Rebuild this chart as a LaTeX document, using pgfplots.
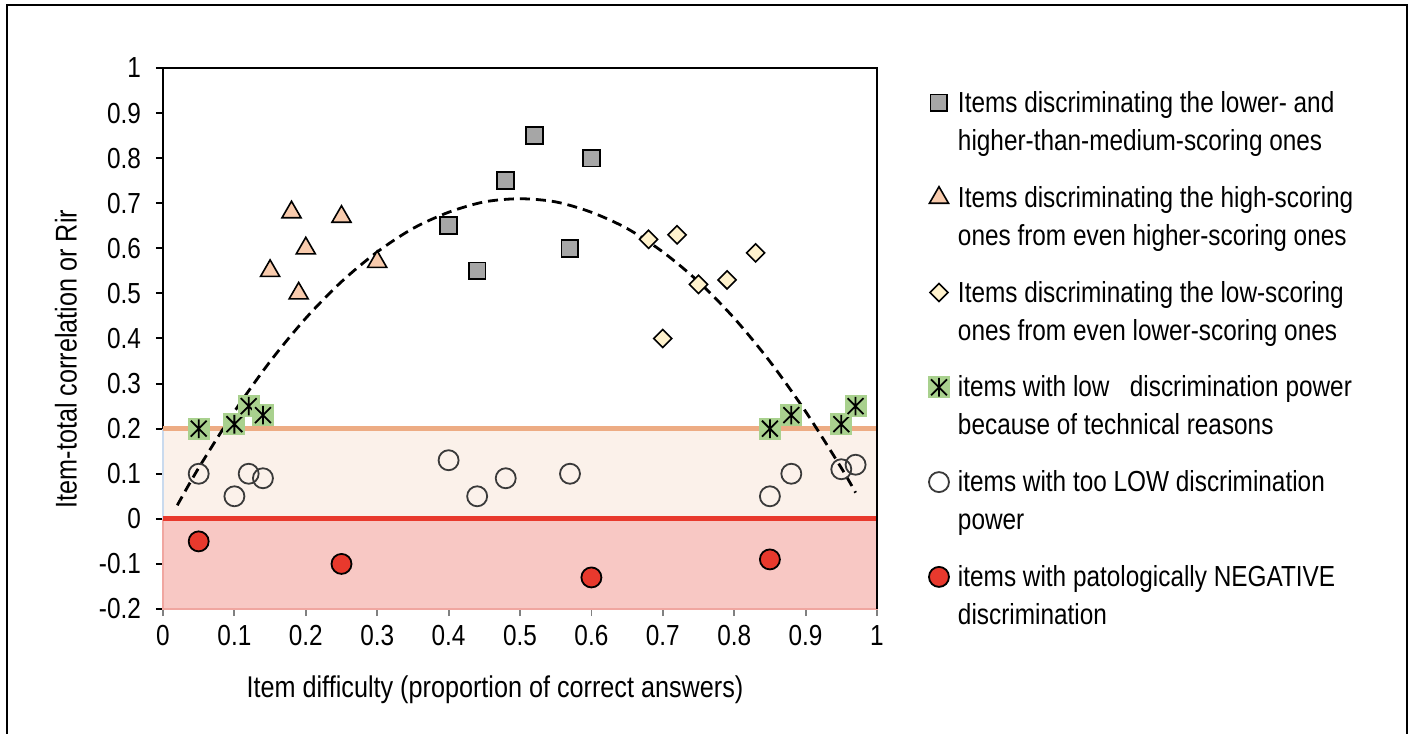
\documentclass[border=0pt]{standalone}
\usepackage{fontspec}
\setmainfont{Liberation Sans}[FakeStretch=0.84]
\usepackage{pgfplots}
\pgfplotsset{compat=1.18}
\definecolor{sqgray}{HTML}{A6A6A6}
\definecolor{trifill}{HTML}{F8CBAD}
\definecolor{diafill}{HTML}{FFF2CC}
\definecolor{techgreen}{HTML}{A9D18E}
\definecolor{redfill}{HTML}{E8392D}
\definecolor{orangeline}{HTML}{EDAC84}
\definecolor{lightband}{HTML}{FBF1EA}
\definecolor{pinkband}{HTML}{F8C8C4}
\definecolor{pinkedge}{HTML}{F0A6A0}
\definecolor{edgeblue}{HTML}{C9DAEE}
\definecolor{circedge}{HTML}{3A3A3A}
\newcommand\lfont{\fontsize{14.5pt}{19pt}\selectfont}
\newcommand\tfont{\fontsize{14.5pt}{17pt}\selectfont}
\newcommand\afont{\fontsize{15pt}{18pt}\selectfont}
\pgfdeclareplotmark{greenstar}{%
  \pgfpathrectangle{\pgfpoint{-\pgfplotmarksize}{-\pgfplotmarksize}}{\pgfpoint{2\pgfplotmarksize}{2\pgfplotmarksize}}%
  \pgfsetfillcolor{techgreen}\pgfusepath{fill}%
  \pgfsetstrokecolor{black}%
  \pgfpathmoveto{\pgfpoint{0pt}{-0.85\pgfplotmarksize}}\pgfpathlineto{\pgfpoint{0pt}{0.85\pgfplotmarksize}}%
  \pgfpathmoveto{\pgfpoint{-0.72\pgfplotmarksize}{-0.72\pgfplotmarksize}}\pgfpathlineto{\pgfpoint{0.72\pgfplotmarksize}{0.72\pgfplotmarksize}}%
  \pgfpathmoveto{\pgfpoint{-0.72\pgfplotmarksize}{0.72\pgfplotmarksize}}\pgfpathlineto{\pgfpoint{0.72\pgfplotmarksize}{-0.72\pgfplotmarksize}}%
  \pgfusepath{stroke}}
\begin{document}
\begin{tikzpicture}
\useasboundingbox (-81.5pt,-62pt) rectangle (624pt,304.5pt);
\fill[white] (-81.5pt,-62pt) rectangle (624pt,304.5pt);
\begin{axis}[
  at={(0pt,0pt)}, anchor=south west,
  width=357pt, height=270.5pt, scale only axis,
  xmin=0, xmax=1, ymin=-0.2, ymax=1,
  axis x line*=bottom, axis y line*=left,
  x axis line style={draw=gray, line width=1pt, -},
  y axis line style={draw=black, line width=1.2pt, -},
  xtick={0,0.1,0.2,0.3,0.4,0.5,0.6,0.7,0.8,0.9,1},
  xticklabels={0,0.1,0.2,0.3,0.4,0.5,0.6,0.7,0.8,0.9,1},
  ytick={-0.2,-0.1,0,0.1,0.2,0.3,0.4,0.5,0.6,0.7,0.8,0.9,1},
  yticklabels={-0.2,-0.1,0,0.1,0.2,0.3,0.4,0.5,0.6,0.7,0.8,0.9,1},
  tick align=outside, major tick length=3.5pt,
  xtick style={draw=gray, line width=0.9pt},
  ytick style={draw=black, line width=1pt},
  ticklabel style={font=\tfont},
  yticklabel style={xshift=-4pt},
  xticklabel style={yshift=-1pt},
  xlabel={Item difficulty (proportion of correct answers)},
  ylabel={Item-total correlation or Rir},
  label style={font=\afont},
  xlabel style={at={(axis description cs:0.465,-0.1497)}, anchor=center},
  ylabel style={at={(axis description cs:-0.1359,0.462)}, anchor=center},
  clip=false,
  legend image code/.code={\draw[#1] plot coordinates {(0pt,4.8pt)};},
  legend style={at={(axis description cs:1.0714,0.9743)}, anchor=north west,
    draw=none, fill=none, inner sep=0pt, outer sep=0pt,
    row sep=28.6pt, column sep=2pt, font=\lfont,
    cells={anchor=base west, inner sep=0pt}},
]
% bands
\addplot[forget plot, fill=lightband, draw=none] coordinates {(0,0) (1,0) (1,0.2) (0,0.2)} \closedcycle;
\addplot[forget plot, fill=pinkband, draw=pinkedge, line width=0.6pt] coordinates {(0,-0.2) (1,-0.2) (1,0) (0,0)} -- cycle;
\addplot[forget plot, draw=edgeblue, line width=0.7pt] coordinates {(0,0) (0,0.2)};
\addplot[forget plot, draw=edgeblue, line width=0.7pt] coordinates {(1,0) (1,0.2)};
\addplot[forget plot, draw=redfill, line width=2.6pt] coordinates {(0,0) (1,0)};
% series
\addplot[only marks, mark=square*, mark size=4.2pt, mark options={fill=sqgray, draw=black, line width=0.9pt}]
  coordinates {(0.40,0.65) (0.44,0.55) (0.48,0.75) (0.52,0.85) (0.57,0.60) (0.60,0.80)};
\addlegendentry{\begin{tabular}[t]{@{}l@{}}Items discriminating the lower- and\\higher-than-medium-scoring ones\end{tabular}}
\addplot[only marks, mark=triangle*, mark size=5.5pt, mark options={fill=trifill, draw=black, line width=0.8pt}]
  coordinates {(0.15,0.55) (0.18,0.68) (0.19,0.50) (0.20,0.60) (0.25,0.67) (0.30,0.57)};
\addlegendentry{\begin{tabular}[t]{@{}l@{}}Items discriminating the high-scoring\\ones from even higher-scoring ones\end{tabular}}
\addplot[only marks, mark=square*, mark size=3.2pt, mark options={rotate=45, fill=diafill, draw=black, line width=0.8pt}]
  coordinates {(0.68,0.62) (0.70,0.40) (0.72,0.63) (0.75,0.52) (0.79,0.53) (0.83,0.59)};
\addlegendentry{\begin{tabular}[t]{@{}l@{}}Items discriminating the low-scoring\\ones from even lower-scoring ones\end{tabular}}
\addplot[only marks, mark=greenstar, mark size=5.5pt, mark options={line width=0.9pt}]
  coordinates {(0.05,0.20) (0.10,0.21) (0.12,0.25) (0.14,0.23) (0.85,0.20) (0.88,0.23) (0.95,0.21) (0.97,0.25)};
\addlegendentry{\begin{tabular}[t]{@{}l@{}}items with low\ \ \ discrimination power\\because of technical reasons\end{tabular}}
\addplot[forget plot, draw=orangeline, line width=2.6pt] coordinates {(0,0.2) (1,0.2)};
\addplot[only marks, mark=o, mark size=5pt, mark options={draw=circedge, line width=0.9pt}]
  coordinates {(0.05,0.10) (0.10,0.05) (0.12,0.10) (0.14,0.09) (0.40,0.13) (0.44,0.05) (0.48,0.09) (0.57,0.10) (0.85,0.05) (0.88,0.10) (0.95,0.11) (0.97,0.12)};
\addlegendentry{\begin{tabular}[t]{@{}l@{}}items with too LOW discrimination\\power\end{tabular}}
\addplot[only marks, mark=*, mark size=5pt, mark options={fill=redfill, draw=black, line width=0.9pt}]
  coordinates {(0.05,-0.05) (0.25,-0.10) (0.60,-0.13) (0.85,-0.09)};
\addlegendentry{\begin{tabular}[t]{@{}l@{}}items with patologically NEGATIVE\\discrimination\end{tabular}}
% trend
\addplot[forget plot, black, line width=1.4pt, dash pattern=on 5pt off 3pt, smooth] coordinates {
 (0.02,0.030) (0.05,0.113) (0.10,0.238) (0.15,0.349) (0.20,0.445) (0.25,0.526) (0.30,0.592)
 (0.35,0.644) (0.40,0.680) (0.45,0.703) (0.50,0.710) (0.55,0.703) (0.60,0.680) (0.65,0.644)
 (0.70,0.592) (0.75,0.526) (0.80,0.445) (0.85,0.349) (0.90,0.238) (0.95,0.113) (0.97,0.058)};
% top and right border of plot area
\draw[black, line width=1.2pt] (rel axis cs:0,1) -- (rel axis cs:1,1) -- (rel axis cs:1,0);
\end{axis}
\draw[black, line width=1pt] (-78pt,-63pt) -- (-78pt,302pt) -- (622pt,302pt) -- (622pt,-63pt);
\end{tikzpicture}
\end{document}
